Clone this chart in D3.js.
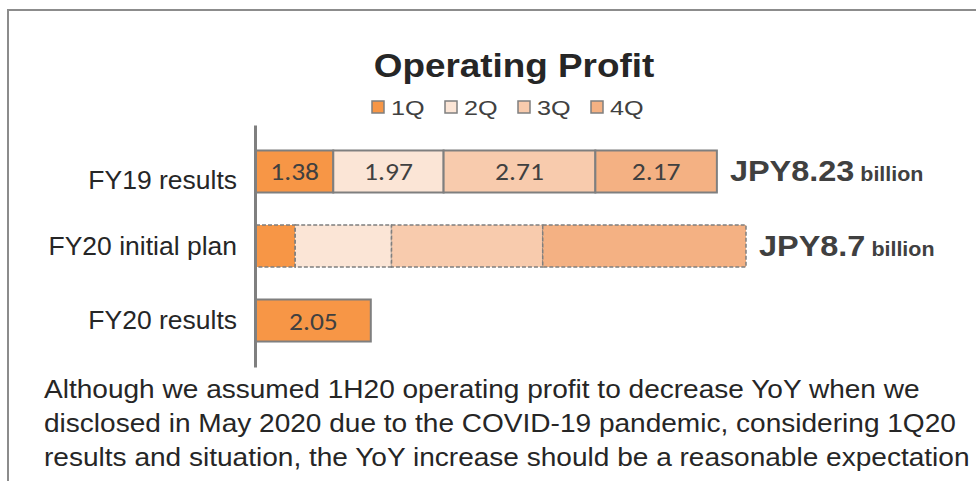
<!DOCTYPE html>
<html>
<head>
<meta charset="utf-8">
<script src="https://cdn.jsdelivr.net/npm/d3@7"></script>
<style>
  body { margin: 0; background: #fff; }
  svg { display: block; font-family: "Liberation Sans", Arial, sans-serif; }
</style>
</head>
<body>
<div id="chart-container"></div>
<script>
const categories = ["FY19 results", "FY20 initial plan", "FY20 results"];
const quarters = ["1Q", "2Q", "3Q", "4Q"];
const fy19 = [1.38, 1.97, 2.71, 2.17];
const fy20plan = [0.7, 1.72, 2.7, 3.63];
const fy20 = [2.05];
const showValues = [true, false, true];
const totals = ["JPY8.23", "JPY8.7", null];
const colors = ["#F79646", "#FBE5D6", "#F8CBAD", "#F4B183"];
const note = [
  "Although we assumed 1H20 operating profit to decrease YoY when we",
  "disclosed in May 2020 due to the COVID-19 pandemic, considering 1Q20",
  "results and situation, the YoY increase should be a reasonable expectation"
];

const width = 976, height = 481;
const sx = 1.12; // text in the picture is a bit wide

const svg = d3.select("#chart-container").append("svg")
  .attr("width", width)
  .attr("height", height);

function at(px, py, s) {
  return "translate(" + px + "," + py + ") scale(" + (s || sx) + ",1)";
}

// outer frame
svg.append("rect")
  .attr("x", 8).attr("y", 10)
  .attr("width", 1000).attr("height", 500)
  .attr("fill", "none")
  .attr("stroke", "#8c8c8c")
  .attr("stroke-width", 2);

svg.append("text")
  .attr("transform", at(514, 77, 1.1))
  .attr("text-anchor", "middle")
  .attr("font-size", 33.5)
  .attr("font-weight", "bold")
  .attr("fill", "#262626")
  .text("Operating Profit");

// legend
let legend = svg.append("g").attr("transform", "translate(372,101)");
let items = legend.selectAll("g").data(quarters).enter().append("g")
  .attr("transform", (d, i) => "translate(" + i * 73 + ",0)");
items.append("rect")
  .attr("width", 12).attr("height", 12)
  .attr("fill", (d, i) => colors[i])
  .attr("stroke", "#7f7f7f").attr("stroke-width", 1.5);
items.append("text")
  .attr("transform", at(19, 14, 1.2))
  .attr("font-size", 21)
  .attr("fill", "#404040")
  .text(d => d);

let rows = [fy19, fy20plan, fy20];

let x = d3.scaleLinear().domain([0, 10]).range([256, 816]);
let y = d3.scaleBand().domain(categories).range([125, 367])
  .paddingInner(0.436).paddingOuter(0.342);

// segments
rows.forEach((vals, r) => {
  let starts = d3.cumsum([0].concat(vals));
  let cy = y(categories[r]) + y.bandwidth() / 2;
  let g = svg.append("g").attr("class", "row");
  let segs = g.selectAll("g").data(vals).enter().append("g");
  segs.append("rect")
    .attr("x", (d, i) => x(starts[i]))
    .attr("y", y(categories[r]))
    .attr("width", d => x(d) - x(0))
    .attr("height", y.bandwidth())
    .attr("fill", (d, i) => colors[i])
    .attr("stroke", "#7f7f7f")
    .attr("stroke-width", r === 1 ? 1.5 : 2)
    .attr("stroke-dasharray", r === 1 ? "4,2" : null);
  if (showValues[r]) {
    segs.append("text")
      .attr("transform", (d, i) => at(x(starts[i] + d / 2), cy + 9, 1.1))
      .attr("text-anchor", "middle")
      .attr("font-family", "Carlito, Lato, sans-serif")
      .attr("font-size", 25)
      .attr("fill", "#404040")
      .text(d => d.toFixed(2));
  }
  if (totals[r]) {
    let t = svg.append("text")
      .attr("transform", at(x(d3.sum(vals)) + 13, cy + 10, 1.1))
      .attr("font-weight", "bold")
      .attr("fill", "#404040");
    t.append("tspan").attr("font-size", 29.5).text(totals[r]);
    t.append("tspan").attr("font-size", 19.5).text(" billion");
  }
});

// category axis
let yAxis = d3.axisLeft(y).tickSize(0).tickPadding(0);
let ax = svg.append("g")
  .attr("transform", "translate(255,0)")
  .call(yAxis);
ax.select(".domain").attr("stroke", "#7f7f7f").attr("stroke-width", 3);
ax.selectAll("text")
  .attr("x", null)
  .attr("transform", at(-18, 0, 1.06))
  .attr("font-family", "Liberation Sans, Arial, sans-serif")
  .attr("font-size", 25)
  .attr("fill", "#262626")
  .attr("dy", (d, i) => i === 0 ? "0.7em" : "0.35em");

svg.append("g").selectAll("text").data(note).enter().append("text")
  .attr("transform", (d, i) => at(44, 398 + i * 34, 1.1))
  .attr("font-size", 25.5)
  .attr("fill", "#262626")
  .text(d => d);
</script>
</body>
</html>
